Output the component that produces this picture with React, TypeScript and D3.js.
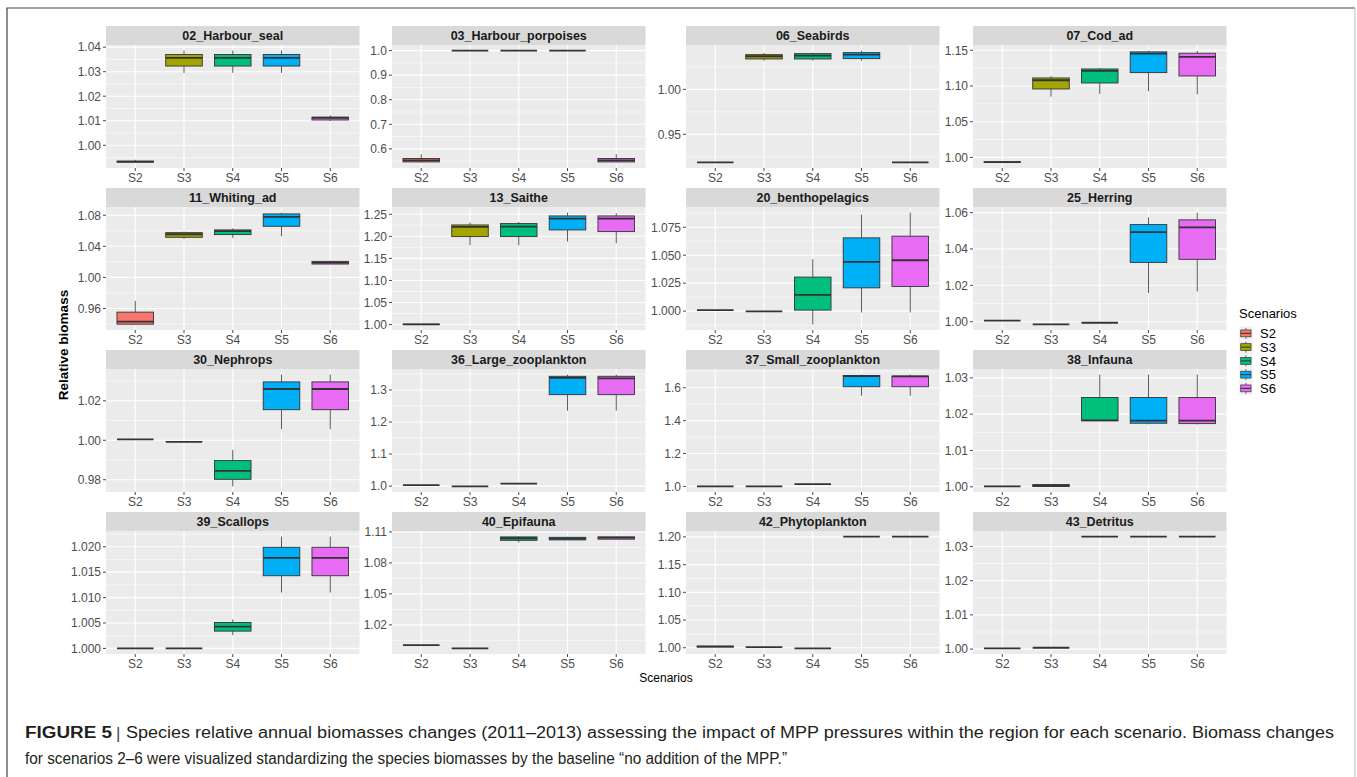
import React, { useEffect, useRef } from 'react';
import * as d3 from 'd3';

// each box: [ymin, q1, median, q3, ymax]
type Box = [number, number, number, number, number];

const scenarios = ['S2', 'S3', 'S4', 'S5', 'S6'];
const scenarioColors = ['#F8766D', '#A3A500', '#00BF7D', '#00B0F6', '#E76BF3'];

const panelNames = [
  '02_Harbour_seal', '03_Harbour_porpoises', '06_Seabirds', '07_Cod_ad',
  '11_Whiting_ad', '13_Saithe', '20_benthopelagics', '25_Herring',
  '30_Nephrops', '36_Large_zooplankton', '37_Small_zooplankton', '38_Infauna',
  '39_Scallops', '40_Epifauna', '42_Phytoplankton', '43_Detritus',
];

const tickLabels: string[][] = [
  ['1.00', '1.01', '1.02', '1.03', '1.04'],
  ['0.6', '0.7', '0.8', '0.9', '1.0'],
  ['0.95', '1.00'],
  ['1.00', '1.05', '1.10', '1.15'],
  ['0.96', '1.00', '1.04', '1.08'],
  ['1.00', '1.05', '1.10', '1.15', '1.20', '1.25'],
  ['1.000', '1.025', '1.050', '1.075'],
  ['1.00', '1.02', '1.04', '1.06'],
  ['0.98', '1.00', '1.02'],
  ['1.0', '1.1', '1.2', '1.3'],
  ['1.0', '1.2', '1.4', '1.6'],
  ['1.00', '1.01', '1.02', '1.03'],
  ['1.000', '1.005', '1.010', '1.015', '1.020'],
  ['1.02', '1.05', '1.08', '1.11'],
  ['1.00', '1.05', '1.10', '1.15', '1.20'],
  ['1.00', '1.01', '1.02', '1.03'],
];

const harbourSeal: Box[] = [
  [0.9930, 0.9931, 0.9933, 0.9935, 0.9941],
  [1.0295, 1.0323, 1.0356, 1.0370, 1.0386],
  [1.0295, 1.0323, 1.0356, 1.0370, 1.0386],
  [1.0295, 1.0323, 1.0356, 1.0370, 1.0386],
  [1.0099, 1.0103, 1.0112, 1.0115, 1.0122],
];
const harbourPorpoises: Box[] = [
  [0.545, 0.547, 0.553, 0.561, 0.578],
  [1.0, 1.0, 1.0, 1.0, 1.0],
  [1.0, 1.0, 1.0, 1.0, 1.0],
  [1.0, 1.0, 1.0, 1.0, 1.0],
  [0.545, 0.547, 0.553, 0.561, 0.578],
];
const seabirds: Box[] = [
  [0.9189, 0.9189, 0.9189, 0.9189, 0.9189],
  [1.0319, 1.0337, 1.0367, 1.0385, 1.0404],
  [1.0319, 1.0337, 1.0374, 1.0396, 1.0407],
  [1.0319, 1.0341, 1.0385, 1.0407, 1.0430],
  [0.9189, 0.9189, 0.9189, 0.9189, 0.9189],
];
const codAd: Box[] = [
  [0.9930, 0.9932, 0.9935, 0.9938, 0.9945],
  [1.0850, 1.0958, 1.1080, 1.1112, 1.1140],
  [1.0888, 1.1042, 1.1210, 1.1238, 1.1252],
  [1.0925, 1.1187, 1.1453, 1.1477, 1.1495],
  [1.0883, 1.1140, 1.1407, 1.1458, 1.1490],
];
const whitingAd: Box[] = [
  [0.9395, 0.9398, 0.9432, 0.9553, 0.9699],
  [1.0495, 1.0516, 1.0555, 1.0576, 1.0589],
  [1.0508, 1.0551, 1.0595, 1.0611, 1.0632],
  [1.0529, 1.0658, 1.0778, 1.0817, 1.0834],
  [1.0168, 1.0172, 1.0189, 1.0206, 1.0215],
];
const saithe: Box[] = [
  [1.0003, 1.0005, 1.0006, 1.0008, 1.0010],
  [1.1798, 1.1994, 1.2213, 1.2258, 1.2311],
  [1.1798, 1.1994, 1.2220, 1.2289, 1.2326],
  [1.1881, 1.2145, 1.2402, 1.2462, 1.2538],
  [1.1843, 1.2107, 1.2402, 1.2462, 1.2523],
];
const benthopelagics: Box[] = [
  [1.0009, 1.0009, 1.0009, 1.0009, 1.0009],
  [0.9997, 0.9997, 0.9997, 0.9997, 0.9997],
  [0.9881, 1.0009, 1.0146, 1.0304, 1.0464],
  [0.9988, 1.0208, 1.0440, 1.0655, 1.0863],
  [0.9988, 1.0220, 1.0455, 1.0670, 1.0881],
];
const herring: Box[] = [
  [1.0006, 1.0006, 1.0006, 1.0006, 1.0006],
  [0.9985, 0.9985, 0.9985, 0.9985, 0.9985],
  [0.9994, 0.9994, 0.9994, 0.9994, 0.9994],
  [1.0158, 1.0326, 1.0493, 1.0534, 1.0574],
  [1.0166, 1.0343, 1.0519, 1.0560, 1.0600],
];
const nephrops: Box[] = [
  [1.0005, 1.0005, 1.0005, 1.0005, 1.0005],
  [0.9992, 0.9992, 0.9992, 0.9992, 0.9992],
  [0.9766, 0.9802, 0.9845, 0.9897, 0.9951],
  [1.0056, 1.0155, 1.0260, 1.0296, 1.0333],
  [1.0056, 1.0155, 1.0260, 1.0296, 1.0333],
];
const largeZooplankton: Box[] = [
  [1.003, 1.003, 1.003, 1.003, 1.003],
  [0.999, 0.999, 0.999, 0.999, 0.999],
  [1.008, 1.008, 1.008, 1.008, 1.008],
  [1.2354, 1.2854, 1.3375, 1.3427, 1.3480],
  [1.2354, 1.2854, 1.3365, 1.3427, 1.3480],
];
const smallZooplankton: Box[] = [
  [1.0, 1.0, 1.0, 1.0, 1.0],
  [1.0, 1.0, 1.0, 1.0, 1.0],
  [1.014, 1.014, 1.014, 1.014, 1.014],
  [1.5515, 1.6060, 1.6707, 1.6747, 1.6800],
  [1.5515, 1.6060, 1.6690, 1.6707, 1.6800],
];
const infauna: Box[] = [
  [1.0001, 1.0001, 1.0001, 1.0001, 1.0001],
  [1.0001, 1.0001, 1.0003, 1.0006, 1.0006],
  [1.0181, 1.0182, 1.0183, 1.0246, 1.0309],
  [1.0172, 1.0175, 1.0182, 1.0246, 1.0309],
  [1.0172, 1.0174, 1.0182, 1.0246, 1.0309],
];
const scallops: Box[] = [
  [1.0, 1.0, 1.0, 1.0, 1.0],
  [1.0, 1.0, 1.0, 1.0, 1.0],
  [1.0026, 1.0034, 1.0043, 1.0051, 1.0057],
  [1.0110, 1.0143, 1.0178, 1.0199, 1.0220],
  [1.0110, 1.0143, 1.0178, 1.0199, 1.0220],
];
const epifauna: Box[] = [
  [1.0004, 1.0004, 1.0004, 1.0004, 1.0004],
  [0.9972, 0.9972, 0.9972, 0.9972, 0.9972],
  [1.0997, 1.1019, 1.1039, 1.1052, 1.1055],
  [1.1023, 1.1023, 1.1036, 1.1048, 1.1052],
  [1.1030, 1.1030, 1.1045, 1.1052, 1.1055],
];
const phytoplankton: Box[] = [
  [1.0012, 1.0015, 1.0022, 1.0030, 1.0033],
  [1.0012, 1.0012, 1.0012, 1.0012, 1.0012],
  [0.9988, 0.9988, 0.9988, 0.9988, 0.9988],
  [1.2006, 1.2006, 1.2006, 1.2006, 1.2006],
  [1.2006, 1.2006, 1.2006, 1.2006, 1.2006],
];
const detritus: Box[] = [
  [1.0002, 1.0002, 1.0002, 1.0002, 1.0002],
  [1.0004, 1.0004, 1.0004, 1.0004, 1.0004],
  [1.0329, 1.0329, 1.0329, 1.0329, 1.0329],
  [1.0329, 1.0329, 1.0329, 1.0329, 1.0329],
  [1.0329, 1.0329, 1.0329, 1.0329, 1.0329],
];

const panelBoxes: Box[][] = [
  harbourSeal, harbourPorpoises, seabirds, codAd,
  whitingAd, saithe, benthopelagics, herring,
  nephrops, largeZooplankton, smallZooplankton, infauna,
  scallops, epifauna, phytoplankton, detritus,
];

const captionLine1 =
  'Species relative annual biomasses changes (2011\u20132013) assessing the impact of MPP pressures within the region for each scenario. Biomass changes';
const captionLine2 =
  'for scenarios 2\u20136 were visualized standardizing the species biomasses by the baseline \u201Cno addition of the MPP.\u201D';

const FONT = '"Liberation Sans", Arial, sans-serif';

const App: React.FC = () => {
  const svgRef = useRef<SVGSVGElement>(null);

  useEffect(() => {
    if (!svgRef.current) return;
    const svg = d3.select(svgRef.current);
    svg.selectAll('*').remove();

    const width = 1357;
    const height = 777;
    svg.append('rect').attr('width', width).attr('height', height).attr('fill', '#ffffff');

    // figure frame
    svg.append('path').attr('d', 'M7,777V8H1355').attr('fill', 'none').attr('stroke', '#444').attr('stroke-width', 1.2);
    svg.append('path').attr('d', 'M1355,8V777').attr('fill', 'none').attr('stroke', '#c8c8c8').attr('stroke-width', 1.2);

    const colX = [106, 392, 686, 973];
    const panelW = 253.5;
    const rowTop0 = 26;
    const rowPitch = 162;
    const stripH = 19;
    const panelH = 123;

    panelNames.forEach((name, i) => {
      const col = i % 4;
      const row = Math.floor(i / 4);
      const x0 = colX[col];
      const stripTop = rowTop0 + row * rowPitch;
      const top = stripTop + stripH;
      const bottom = top + panelH;
      const boxes = panelBoxes[i];

      const lo = d3.min(boxes, b => b[0]) as number;
      const hi = d3.max(boxes, b => b[4]) as number;
      const pad = (hi - lo) * 0.05;

      const xScale = d3.scalePoint<string>()
        .domain(scenarios)
        .range([x0, x0 + panelW])
        .padding(0.6);
      const step = xScale.step();
      const boxW = step * 0.75;

      const yScale = d3.scaleLinear()
        .domain([lo - pad, hi + pad])
        .range([bottom, top]);

      const g = svg.append('g');

      // strip
      g.append('rect')
        .attr('x', x0).attr('y', stripTop).attr('width', panelW).attr('height', stripH)
        .attr('fill', '#D9D9D9');
      g.append('text')
        .attr('x', x0 + panelW / 2).attr('y', stripTop + stripH / 2)
        .attr('dy', '0.36em')
        .attr('text-anchor', 'middle')
        .attr('font-family', FONT).attr('font-size', '12.5px').attr('font-weight', 'bold')
        .attr('fill', '#1A1A1A')
        .text(name);

      // panel background
      g.append('rect')
        .attr('x', x0).attr('y', top).attr('width', panelW).attr('height', panelH)
        .attr('fill', '#EBEBEB');

      const ticks = tickLabels[i].map(t => +t);
      const tStep = ticks.length > 1 ? ticks[1] - ticks[0] : 0.05;
      const [dLo, dHi] = yScale.domain();
      const minors: number[] = [];
      for (let k = -1; k < ticks.length; k++) {
        const m = (k < 0 ? ticks[0] - tStep : ticks[k]) + tStep / 2;
        if (m > dLo && m < dHi) minors.push(m);
      }

      g.selectAll('.minor')
        .data(minors)
        .enter()
        .append('line')
        .attr('x1', x0).attr('x2', x0 + panelW)
        .attr('y1', d => yScale(d)).attr('y2', d => yScale(d))
        .attr('stroke', '#ffffff').attr('stroke-width', 0.55);

      g.selectAll('.major')
        .data(ticks)
        .enter()
        .append('line')
        .attr('x1', x0).attr('x2', x0 + panelW)
        .attr('y1', d => yScale(d)).attr('y2', d => yScale(d))
        .attr('stroke', '#ffffff').attr('stroke-width', 1.1);

      g.selectAll('.xgrid')
        .data(scenarios)
        .enter()
        .append('line')
        .attr('x1', d => xScale(d) as number).attr('x2', d => xScale(d) as number)
        .attr('y1', top).attr('y2', bottom)
        .attr('stroke', '#ffffff').attr('stroke-width', 1.1);

      // boxes
      const bg = g.selectAll('.box')
        .data(boxes)
        .enter()
        .append('g');

      bg.append('line')
        .attr('x1', (_, j) => xScale(scenarios[j]) as number)
        .attr('x2', (_, j) => xScale(scenarios[j]) as number)
        .attr('y1', d => yScale(d[4])).attr('y2', d => yScale(d[3]))
        .attr('stroke', '#333333').attr('stroke-width', 0.8);
      bg.append('line')
        .attr('x1', (_, j) => xScale(scenarios[j]) as number)
        .attr('x2', (_, j) => xScale(scenarios[j]) as number)
        .attr('y1', d => yScale(d[1])).attr('y2', d => yScale(d[0]))
        .attr('stroke', '#333333').attr('stroke-width', 0.8);
      bg.append('rect')
        .attr('x', (_, j) => (xScale(scenarios[j]) as number) - boxW / 2)
        .attr('y', d => yScale(d[3]))
        .attr('width', boxW)
        .attr('height', d => yScale(d[1]) - yScale(d[3]))
        .attr('fill', (_, j) => scenarioColors[j])
        .attr('stroke', '#333333').attr('stroke-width', 0.9);
      bg.append('line')
        .attr('x1', (_, j) => (xScale(scenarios[j]) as number) - boxW / 2)
        .attr('x2', (_, j) => (xScale(scenarios[j]) as number) + boxW / 2)
        .attr('y1', d => yScale(d[2])).attr('y2', d => yScale(d[2]))
        .attr('stroke', '#333333').attr('stroke-width', 1.8);

      // y axis
      const yAxis = g.append('g');
      yAxis.selectAll('line')
        .data(ticks)
        .enter()
        .append('line')
        .attr('x1', x0 - 3).attr('x2', x0)
        .attr('y1', d => yScale(d)).attr('y2', d => yScale(d))
        .attr('stroke', '#333333').attr('stroke-width', 0.9);
      yAxis.selectAll('text')
        .data(tickLabels[i])
        .enter()
        .append('text')
        .attr('x', x0 - 5)
        .attr('y', d => yScale(+d))
        .attr('dy', '0.36em')
        .attr('text-anchor', 'end')
        .attr('font-family', FONT).attr('font-size', '12px')
        .attr('fill', '#4D4D4D')
        .text(d => d);

      // x axis
      const xAxis = g.append('g');
      xAxis.selectAll('line')
        .data(scenarios)
        .enter()
        .append('line')
        .attr('x1', d => xScale(d) as number).attr('x2', d => xScale(d) as number)
        .attr('y1', bottom).attr('y2', bottom + 3)
        .attr('stroke', '#333333').attr('stroke-width', 0.9);
      xAxis.selectAll('text')
        .data(scenarios)
        .enter()
        .append('text')
        .attr('x', d => xScale(d) as number)
        .attr('y', bottom + 10)
        .attr('dy', '0.36em')
        .attr('text-anchor', 'middle')
        .attr('font-family', FONT).attr('font-size', '12px')
        .attr('fill', '#4D4D4D')
        .text(d => d);
    });

    // axis titles
    svg.append('text')
      .attr('transform', 'translate(68,345) rotate(-90)')
      .attr('text-anchor', 'middle')
      .attr('font-family', FONT).attr('font-size', '13.5px').attr('font-weight', 'bold')
      .attr('fill', '#000')
      .text('Relative biomass');
    svg.append('text')
      .attr('x', 666).attr('y', 682)
      .attr('text-anchor', 'middle')
      .attr('font-family', FONT).attr('font-size', '12px')
      .attr('fill', '#000')
      .text('Scenarios');

    // legend
    const legend = svg.append('g');
    legend.append('text')
      .attr('x', 1239).attr('y', 318)
      .attr('font-family', FONT).attr('font-size', '13px')
      .attr('fill', '#000')
      .text('Scenarios');
    const keyS = 13.75;
    const keyTop = 326.5;
    const keys = legend.selectAll('.key')
      .data(scenarios)
      .enter()
      .append('g')
      .attr('transform', (_, j) => `translate(1239,${keyTop + j * keyS})`);
    keys.append('rect')
      .attr('width', keyS).attr('height', keyS)
      .attr('fill', '#F2F2F2');
    keys.append('line')
      .attr('x1', keyS / 2).attr('x2', keyS / 2)
      .attr('y1', keyS * 0.1).attr('y2', keyS * 0.9)
      .attr('stroke', '#333333').attr('stroke-width', 0.7);
    keys.append('rect')
      .attr('x', keyS * 0.125).attr('y', keyS * 0.25)
      .attr('width', keyS * 0.75).attr('height', keyS * 0.5)
      .attr('fill', (_, j) => scenarioColors[j])
      .attr('stroke', '#333333').attr('stroke-width', 0.7);
    keys.append('line')
      .attr('x1', keyS * 0.125).attr('x2', keyS * 0.875)
      .attr('y1', keyS / 2).attr('y2', keyS / 2)
      .attr('stroke', '#333333').attr('stroke-width', 1);
    keys.append('text')
      .attr('x', 21).attr('y', keyS / 2)
      .attr('dy', '0.36em')
      .attr('font-family', FONT).attr('font-size', '13px')
      .attr('fill', '#000')
      .text(d => d);

    // caption
    const CAP = '"Liberation Sans Narrow", "Liberation Sans", Arial, sans-serif';
    svg.append('text')
      .attr('x', 25).attr('y', 738)
      .attr('font-family', CAP).attr('font-size', '16px').attr('font-weight', 'bold')
      .attr('fill', '#231F20')
      .attr('textLength', 87).attr('lengthAdjust', 'spacingAndGlyphs')
      .text('FIGURE 5');
    svg.append('text')
      .attr('x', 116).attr('y', 739)
      .attr('font-family', CAP).attr('font-size', '17px')
      .attr('fill', '#444')
      .text('|');
    svg.append('text')
      .attr('x', 126).attr('y', 738)
      .attr('font-family', CAP).attr('font-size', '16px')
      .attr('fill', '#231F20')
      .attr('textLength', 1208).attr('lengthAdjust', 'spacingAndGlyphs')
      .text(captionLine1);
    svg.append('text')
      .attr('x', 25).attr('y', 764)
      .attr('font-family', CAP).attr('font-size', '16px')
      .attr('fill', '#231F20')
      .attr('textLength', 762).attr('lengthAdjust', 'spacingAndGlyphs')
      .text(captionLine2);
  }, []);

  return (
    <div style={{ position: 'absolute', left: 0, top: 0, width: 1357, height: 777, background: '#fff' }}>
      <svg ref={svgRef} width={1357} height={777} style={{ display: 'block' }} />
    </div>
  );
};

export default App;
